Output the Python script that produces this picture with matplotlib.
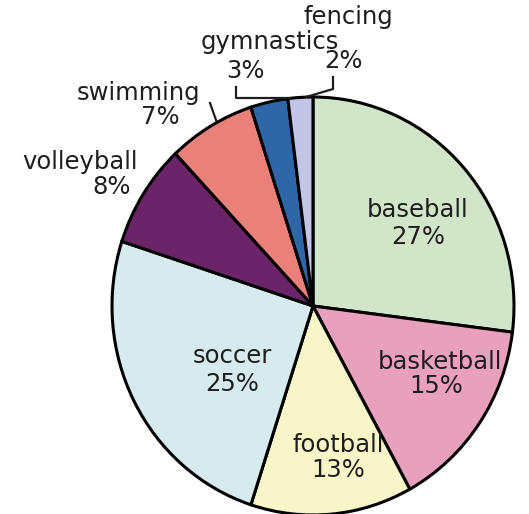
import matplotlib.pyplot as plt

plt.rcParams['font.family'] = ['DejaVu Sans']

sports = ["baseball", "basketball", "football", "soccer",
          "volleyball", "swimming", "gymnastics", "fencing"]
shares = [27, 15, 13, 25, 8, 7, 3, 2]
colors = ["#d1e6c9", "#e8a0bd", "#f8f5c9", "#d7eaee",
          "#6c2469", "#e9807a", "#2f66a8", "#c2c5e6"]

W, H = 529, 514
fig = plt.figure(figsize=(W / 100, H / 100), dpi=100)
ax = fig.add_axes([0, 0, 1, 1])

# pie centre / radius in pixels
cx, cy = 313, 306
rx, ry = 201, 209

ax.pie(shares, colors=colors, startangle=90, counterclock=False,
       wedgeprops=dict(edgecolor="black", linewidth=2.2))
ax.set_aspect("auto")
ax.set_xlim(-cx / rx, (W - cx) / rx)
ax.set_ylim(-(H - cy) / ry, cy / ry)
ax.axis("off")


def px(x, y):
    return ((x - cx) / rx, (cy - y) / ry)


# label positions (pixels) for name and percent
label_pos = {
    "baseball": ((418, 210), (418, 237)),
    "basketball": ((440, 362), (436, 386)),
    "football": ((338, 445), (338, 470)),
    "soccer": ((232, 356), (232, 384)),
    "volleyball": ((80, 162), (112, 187)),
    "swimming": ((138, 93), (160, 117)),
    "gymnastics": ((270, 42), (245, 71)),
    "fencing": ((348, 17), (344, 61)),
}
for name, val in zip(sports, shares):
    (nx, ny), (vx, vy) = label_pos[name]
    ax.text(*px(nx, ny), name, ha="center", va="center",
            fontsize=17.5, color="#1e1e1e")
    ax.text(*px(vx, vy), f"{val}%", ha="center", va="center",
            fontsize=17.5, color="#1e1e1e")

# leader lines
leaders = [
    [(210, 103), (216, 120)],
    [(236, 87), (236, 98), (290, 98)],
    [(333, 77), (333, 89), (306, 97)],
]
for pts in leaders:
    xs, ys = zip(*[px(x, y) for x, y in pts])
    ax.plot(xs, ys, color="#1e1e1e", linewidth=1.6, clip_on=False)

fig.savefig("out.png", dpi=100)
